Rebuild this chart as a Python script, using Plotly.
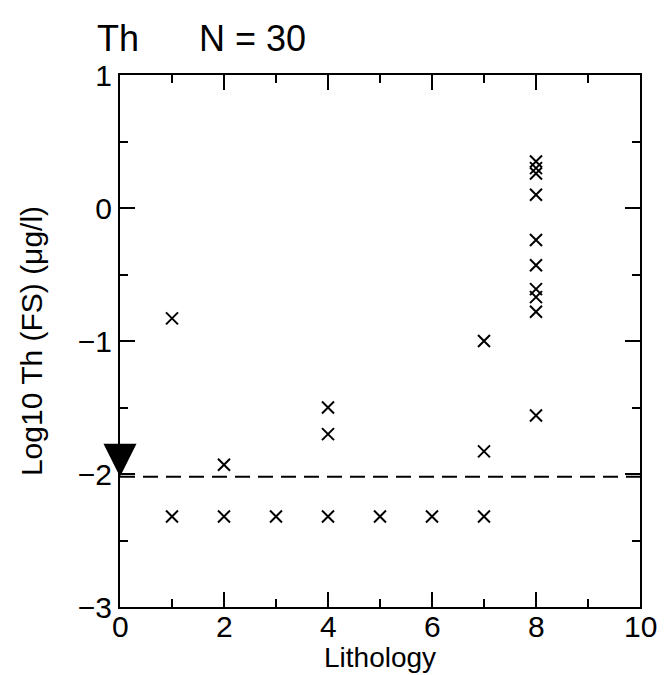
import plotly.graph_objects as go

lithology = [1, 1, 2, 2, 3, 4, 4, 4, 5, 6, 7, 7, 7,
             8, 8, 8, 8, 8, 8, 8, 8, 8, 8]
log_th = [-0.83, -2.32, -1.93, -2.32, -2.32, -1.50, -1.70, -2.32, -2.32, -2.32,
          -1.00, -1.83, -2.32,
          0.35, 0.30, 0.26, 0.10, -0.24, -0.43, -0.61, -0.67, -0.78, -1.56]
detection_limit = -2.02
x_ticks = [0, 2, 4, 6, 8, 10]
y_ticks = [-3, -2, -1, 0, 1]
title_text = "Th" + "\u00a0" * 6 + "N = 30"
x_title = "Lithology"
y_title = "Log10 Th (FS) (μg/l)"

FONT = "Liberation Sans"

fig = go.Figure()
fig.add_trace(go.Scatter(
    x=lithology, y=log_th, mode="markers",
    marker=dict(symbol="x-thin", size=12, color="black",
                line=dict(width=2, color="black")),
    showlegend=False, hoverinfo="skip"))

# detection limit dashed line
fig.add_trace(go.Scatter(
    x=[0, 10], y=[detection_limit, detection_limit], mode="lines",
    line=dict(color="black", width=2, dash="15px,8px"),
    showlegend=False, hoverinfo="skip"))

# triangle marker pointing at the detection limit on the y axis
fig.add_trace(go.Scatter(
    x=[0], y=[detection_limit], mode="markers",
    marker=dict(symbol="arrow-down", size=33, color="black",
                line=dict(width=0)),
    cliponaxis=False, showlegend=False, hoverinfo="skip"))

axis_common = dict(showgrid=False, zeroline=False, showline=True,
                   linecolor="black", linewidth=2, mirror="ticks",
                   ticks="inside", tickcolor="black", tickwidth=2,
                   ticklen=15, automargin=False,
                   tickfont=dict(family=FONT, size=30, color="black"))

fig.update_xaxes(range=[0, 10], tickvals=x_ticks, showticklabels=False,
                 minor=dict(dtick=1, ticks="inside", ticklen=8,
                            tickwidth=2, tickcolor="black"),
                 **axis_common)
fig.update_yaxes(range=[-3, 1], tickvals=y_ticks,
                 minor=dict(dtick=0.5, ticks="inside", ticklen=8,
                            tickwidth=2, tickcolor="black"),
                 title=dict(text=y_title, standoff=26,
                            font=dict(family=FONT, size=30, color="black")),
                 **axis_common)

# x tick labels placed just under the axis line
for xv in x_ticks:
    fig.add_annotation(text=str(xv), xref="x", yref="paper",
                       x=xv, y=0, xanchor="center", yanchor="top",
                       yshift=-2, showarrow=False, borderpad=0,
                       font=dict(family=FONT, size=30, color="black"))

fig.add_annotation(text=x_title, xref="paper", yref="paper",
                   x=0.5, y=0, xanchor="center", yanchor="bottom",
                   yshift=-67, showarrow=False, borderpad=0,
                   font=dict(family=FONT, size=28, color="black"))

fig.update_layout(
    width=665, height=675,
    margin=dict(l=120, r=25, t=75, b=68, autoexpand=False),
    plot_bgcolor="white", paper_bgcolor="white",
    title=dict(text=title_text, x=97 / 665, xanchor="left",
               y=1 - 38 / 675, yanchor="middle",
               font=dict(family=FONT, size=36, color="black")),
)

fig.write_html("out.html")
